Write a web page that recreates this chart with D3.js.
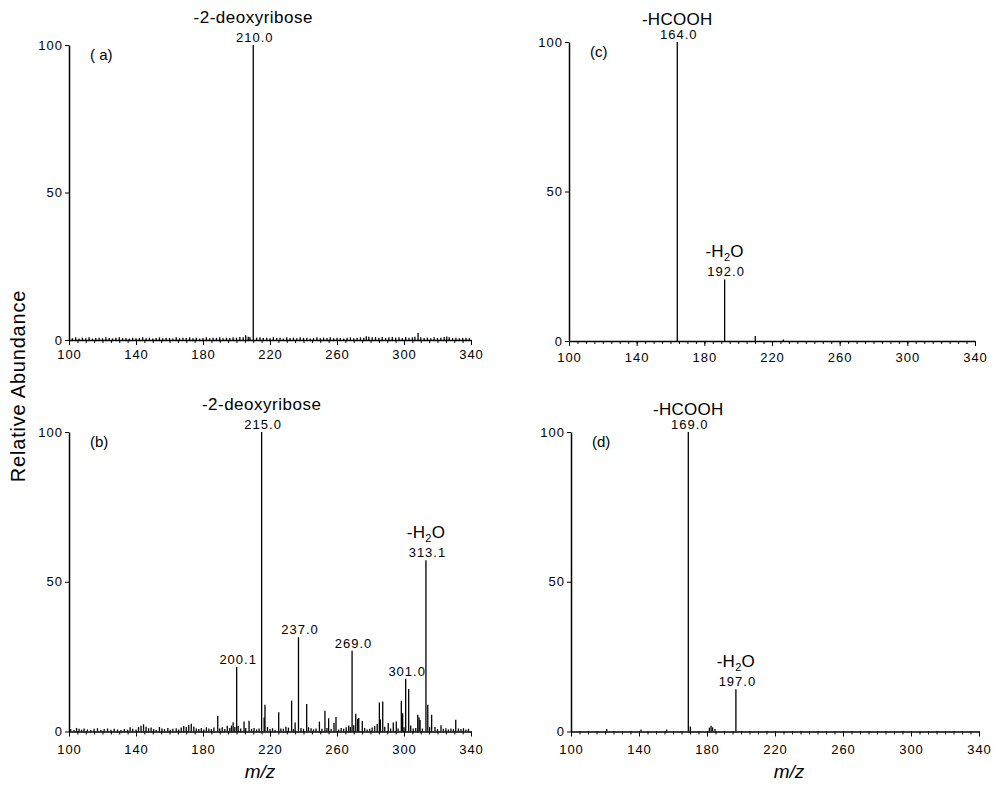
<!DOCTYPE html>
<html>
<head>
<meta charset="utf-8">
<script src="https://cdn.jsdelivr.net/npm/d3@7"></script>
<style>
  body { margin: 0; background: #fff; }
  svg { display: block; font-family: "Liberation Sans", Arial, Helvetica, sans-serif; }
</style>
</head>
<body>
<svg width="1006" height="786"></svg>
<script>
// peak lists [m/z, relative abundance]
var peaksA = [
  [102,.6],[104,.9],[106,.5],[108,.8],[110,.6],[112,.9],[114,.5],[116,.7],[118,.8],[120,.6],
  [122,.9],[124,.7],[126,.5],[128,.8],[130,.9],[132,.6],[134,.7],[136,.5],[138,.8],[140,.6],
  [142,.7],[144,.9],[146,.6],[148,.8],[150,.5],[152,.7],[154,.9],[156,.6],[158,.8],[160,.7],
  [162,.5],[164,.9],[166,.6],[168,.8],[170,.7],[172,.9],[174,.6],[176,.8],[178,.5],[180,.7],
  [182,.9],[184,.6],[186,.8],[188,.7],[190,.9],[192,.6],[194,.8],[196,.7],[198,.9],[200,.8],
  [202,1.0],[204,.9],[205.5,1.6],[207,1.1],[208,.9],[210,100],[212,.8],[214,.9],[216,.7],[218,.8],
  [220,.6],[222,.9],[224,.7],[226,.8],[228,.5],[230,.9],[232,.7],[234,.8],[236,.6],[238,.9],
  [240,.7],[242,.8],[244,.5],[246,.7],[248,.9],[250,.6],[252,.8],[254,.7],[256,.9],[258,.6],
  [260,.8],[262,.7],[264,.5],[266,.8],[268,.9],[270,.6],[272,.7],[274,.9],[276,.8],[277.5,1.3],
  [279,1.1],[281,.9],[283,1.0],[285,.8],[287,1.0],[289,.7],[291,.9],[293,1.0],[295,.8],[297,.9],
  [299,.7],[301,1.0],[303,.8],[305,.9],[306.5,1.1],[308.4,2.4],[310,.9],[312,.7],[314,.8],[316,.6],
  [318,.9],[320,.7],[322,.8],[324,1.0],[325.5,1.2],[327,.9],[329,.7],[331,.8],[333,.6],[335,.7],
  [337,.8],[339,.6]
]
var peaksB = [
  [101,.8],[103,.5],[104.5,1.2],[106,.9],[107.5,.6],[109,1.0],[111,.7],[113,.5],[115,.9],[117,1.1],
  [119,.6],[121,.8],[123,1.0],[125,.6],[127,.9],[129,.7],[131,.5],[133,.8],[135,.6],[136.5,1.4],
  [138,.9],[140,.7],[141.5,1.5],[143,1.9],[144.5,2.4],[146,1.6],[147.5,1.1],[149,1.3],[150.5,.8],[152,.6],
  [154,1.5],[155.5,1.0],[157,.8],[159,1.2],[160.5,.6],[162,.9],[164,1.1],[165.5,.7],[167,1.3],[168.5,1.8],
  [170,1.5],[171.5,2.2],[173,2.6],[174.5,1.7],[176,1.0],[177.5,.8],[179,1.2],[180.5,.7],[182,1.4],[183.5,1.0],
  [185,.8],[186.5,1.3],[188.8,5.2],[190,1.0],[191.5,1.4],[193,.8],[194.5,1.9],[196,1.2],[197,2.0],[198,3.1],
  [199,1.5],[200.1,21.5],[201,1.8],[202.5,1.0],[204.5,3.3],[205.5,1.2],[207.5,3.6],[209,.9],[210.5,1.2],[212,.7],
  [213.5,1.0],[215,100],[216.5,4.7],[217,8.9],[218.5,1.5],[220,.8],[221.5,1.1],[223,.6],[225.2,6.4],[226.5,1.0],
  [228,.9],[229.5,1.6],[231,1.3],[232.9,10.3],[234,.8],[235,3.0],[237,31.5],[238.5,1.2],[240,.9],[241.9,9.2],
  [243,1.4],[244.5,1.1],[246,.7],[247.5,1.0],[249.5,3.3],[251,.9],[252.8,6.9],[254,1.2],[255,4.4],[256.5,.8],
  [258.2,2.8],[259.4,4.8],[261,.7],[262.5,1.2],[264,.9],[265.5,1.4],[267,2.0],[268,1.5],[269,27],[270,2.1],
  [271.2,5.9],[272.3,4.2],[273,4.5],[275.1,3.5],[276.5,1.2],[278,.7],[279.5,.9],[281,1.3],[282.5,1.8],[284,2.5],
  [285.3,9.7],[285.9,4.0],[287.3,10.0],[288.5,1.6],[290.6,2.8],[292,1.0],[293.6,3.0],[295.4,3.3],[296.5,1.0],[298.4,10.3],
  [299.2,6.1],[300,1.4],[301,17.6],[302.8,14.2],[304,2.0],[305.5,1.0],[307,1.2],[308.2,5.6],[309,4.7],[309.6,3.8],
  [311,1.0],[313.1,57.2],[314.2,8.9],[315.3,1.5],[316.5,5.6],[318.5,1.5],[320,.8],[322.1,2.1],[323.5,.9],[325,1.1],
  [326.5,.7],[328,1.0],[329.5,.8],[330.9,3.9],[332.5,1.0],[334,.8],[335.5,1.1],[337,.7],[338.5,.9]
]
var peaksC = [[164,100],[192,20.6],[210.1,1.7],[226.7,.5]]
var peaksD = [[121,.8],[141.2,.7],[156.3,.7],[169,100],[170.2,1.7],[181.4,1.3],[182.4,1.9],[183.3,1.4],[184.7,.8],[197,14.1]]

// labelled peaks: m/z, abundance, number shown, neutral loss above it
var notesA = [{mz:210, ab:100, num:'210.0', loss:'-2-deoxyribose'}]
var notesB = [
  {mz:215, ab:100, num:'215.0', loss:'-2-deoxyribose'},
  {mz:200.1, ab:21.5, num:'200.1'},
  {mz:237, ab:31.5, num:'237.0'},
  {mz:269, ab:27, num:'269.0'},
  {mz:301, ab:17.6, num:'301.0'},
  {mz:313.1, ab:57.2, num:'313.1', loss:'-H2O'}
]
var notesC = [
  {mz:164, ab:100, num:'164.0', loss:'-HCOOH'},
  {mz:192, ab:20.6, num:'192.0', loss:'-H2O'}
]
var notesD = [
  {mz:169, ab:100, num:'169.0', loss:'-HCOOH'},
  {mz:197, ab:14.1, num:'197.0', loss:'-H2O'}
]

var xTicks = [100, 140, 180, 220, 260, 300, 340]
var yTicks = [0, 50, 100]
var tags = ['( a)', '(b)', '(c)', '(d)']

//  panel boxes in pixels
var panels = [
  {peaks: peaksA, notes: notesA, left: 69, right: 471, top: 45, bottom: 340, labelY: 19},
  {peaks: peaksB, notes: notesB, left: 69, right: 471, top: 432, bottom: 731.5, labelY: 22},
  {peaks: peaksC, notes: notesC, left: 569, right: 975, top: 42, bottom: 341, labelY: 21},
  {peaks: peaksD, notes: notesD, left: 571, right: 979, top: 432, bottom: 731.5, labelY: 22}
]

var svg = d3.select('svg')

panels.forEach( (p, i) => {
    var x = d3.scaleLinear().domain([100, 340]).range([p.left, p.right])
    var y = d3.scaleLinear().domain([0, 100]).range([p.bottom, p.top])
    var g = svg.append('g')

    // minor ticks every 5
    g.append('g')
        .attr('transform', `translate(0,${p.bottom})`)
        .call(d3.axisBottom(x).tickValues(d3.range(100, 341, 5)).tickSize(3).tickSizeOuter(0).tickFormat(''))
        .call(a => a.select('.domain').remove())
        .selectAll('line').attr('stroke', '#000').attr('stroke-width', 1)

    var xAxis = g.append('g')
        .attr('transform', `translate(0,${p.bottom})`)
        .call(d3.axisBottom(x).tickValues(xTicks).tickSize(5).tickSizeOuter(0))
    xAxis.select('.domain').attr('stroke', '#000').attr('stroke-width', 1.5)
    xAxis.selectAll('line').attr('stroke', '#000').attr('stroke-width', 1)
    xAxis.selectAll('text')
        .attr('y', p.labelY).attr('dy', 0)
        .attr('font-size', 13).attr('letter-spacing', 1)
        .attr('font-family', '"Liberation Sans", Arial, sans-serif')
        .attr('fill', '#000')

    var yAxis = g.append('g')
        .attr('transform', `translate(${p.left},0)`)
        .call(d3.axisLeft(y).tickValues(yTicks).tickSize(4).tickPadding(2).tickSizeOuter(0))
    yAxis.select('.domain').attr('stroke', '#000').attr('stroke-width', 1.5)
    yAxis.selectAll('line').attr('stroke', '#000')
    yAxis.selectAll('text')
        .attr('font-size', 13).attr('letter-spacing', 1)
        .attr('font-family', '"Liberation Sans", Arial, sans-serif')
        .attr('fill', '#000')

    // stick spectrum
    g.append('g').selectAll('line')
        .data(p.peaks)
        .enter().append('line')
        .attr('x1', d => x(d[0])).attr('x2', d => x(d[0]))
        .attr('y1', y(0)).attr('y2', d => y(d[1]))
        .attr('stroke', '#000')
        .attr('stroke-width', 1.3)

    g.append('text')
        .attr('x', p.left + 21)
        .attr('y', p.top + 15)
        .attr('font-size', 15)
        .text(tags[i])

    // peak labels
    p.notes.forEach( n => {
        var nx = x(n.mz), ny = y(n.ab) - 3
        g.append('text')
            .attr('x', nx + 1.5).attr('y', ny)
            .attr('text-anchor', 'middle')
            .attr('font-size', 13).attr('letter-spacing', 1)
            .text(n.num)
        if (n.loss) {
            var gap = n.loss == '-HCOOH' ? 14 : 19
            var t = g.append('text')
                .attr('x', nx).attr('y', ny - gap)
                .attr('text-anchor', 'middle')
                .attr('font-size', 17)
                .attr('letter-spacing', n.loss == '-2-deoxyribose' ? 0.5 : 0.3)
            if (n.loss == '-H2O') {
                t.append('tspan').text('-H')
                t.append('tspan').attr('font-size', 11).attr('dy', 4).text('2')
                t.append('tspan').attr('dy', -4).text('O')
            } else {
                t.text(n.loss)
            }
        }
    })
})

// shared axis titles
svg.append('text')
    .attr('transform', 'translate(25,386) rotate(-90)')
    .attr('text-anchor', 'middle')
    .attr('font-size', 20)
    .attr('letter-spacing', 0.8)
    .text('Relative Abundance')

svg.append('text')
    .attr('x', 260).attr('y', 778)
    .attr('text-anchor', 'middle')
    .attr('font-size', 19).attr('font-style', 'italic')
    .text('m/z')

svg.append('text')
    .attr('x', 789).attr('y', 778)
    .attr('text-anchor', 'middle')
    .attr('font-size', 19).attr('font-style', 'italic')
    .text('m/z')
</script>
</body>
</html>
